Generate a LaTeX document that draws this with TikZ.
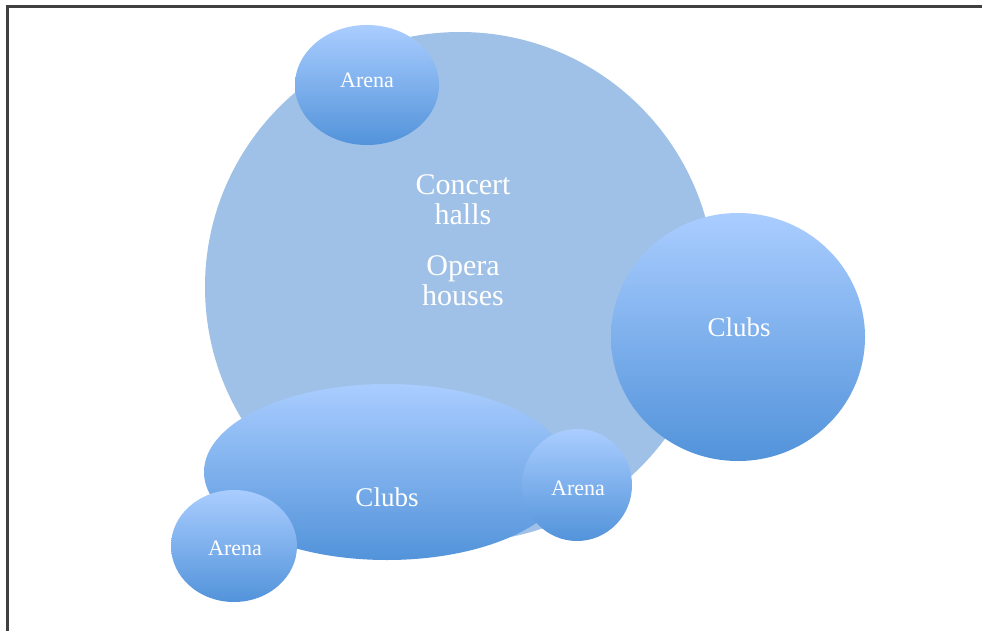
\documentclass[tikz,border=0pt]{standalone}
\usepackage{fontspec}
\setmainfont{Liberation Serif}
\usetikzlibrary{shapes.geometric}
\definecolor{bigblue}{HTML}{9FC1E7}
\definecolor{topblue}{HTML}{AACDFF}
\definecolor{botblue}{HTML}{5293DA}
\definecolor{frame}{HTML}{404040}
\tikzset{
  bubble/.style={ellipse, inner sep=0pt, top color=topblue, bottom color=botblue, draw=none},
  lbl/.style={text=white, inner sep=0pt, align=center},
}
\begin{document}
\begin{tikzpicture}[x=1pt,y=-1pt]
\useasboundingbox (0,0) rectangle (982,631);
\fill[white] (0,0) rectangle (982,631);
% frame
\draw[frame, line width=3pt] (7,631) coordinate (fb) -- (7,7) coordinate (fc) -- (982,7) coordinate (fr);
% big circle
\node[circle, fill=bigblue, minimum size=510pt, inner sep=0pt] (big) at (460,287) {};
\node[lbl, font=\fontsize{30}{30}\selectfont] (ch) at (463,200) {Concert\\halls};
\node[lbl, font=\fontsize{30}{30}\selectfont] (oh) at (463,281) {Opera\\houses};
% bubbles
\node[bubble, minimum width=144pt, minimum height=120pt] (a1) at (367,85) {};
\node[lbl, font=\fontsize{22}{24}\selectfont] (a1t) at (367,80) {Arena};
\node[bubble, minimum width=254pt, minimum height=248pt] (c1) at (738,337) {};
\node[lbl, font=\fontsize{27}{28}\selectfont] (c1t) at (739,327) {Clubs};
\node[bubble, minimum width=366pt, minimum height=176pt] (c2) at (387,472) {};
\node[lbl, font=\fontsize{27}{28}\selectfont] (c2t) at (387,497) {Clubs};
\node[bubble, minimum width=110pt, minimum height=112pt] (a2) at (577,485) {};
\node[lbl, font=\fontsize{22}{24}\selectfont] (a2t) at (578,488) {Arena};
\node[bubble, minimum width=126pt, minimum height=112pt] (a3) at (234,546) {};
\node[lbl, font=\fontsize{22}{24}\selectfont] (a3t) at (235,548) {Arena};
\end{tikzpicture}
\end{document}
